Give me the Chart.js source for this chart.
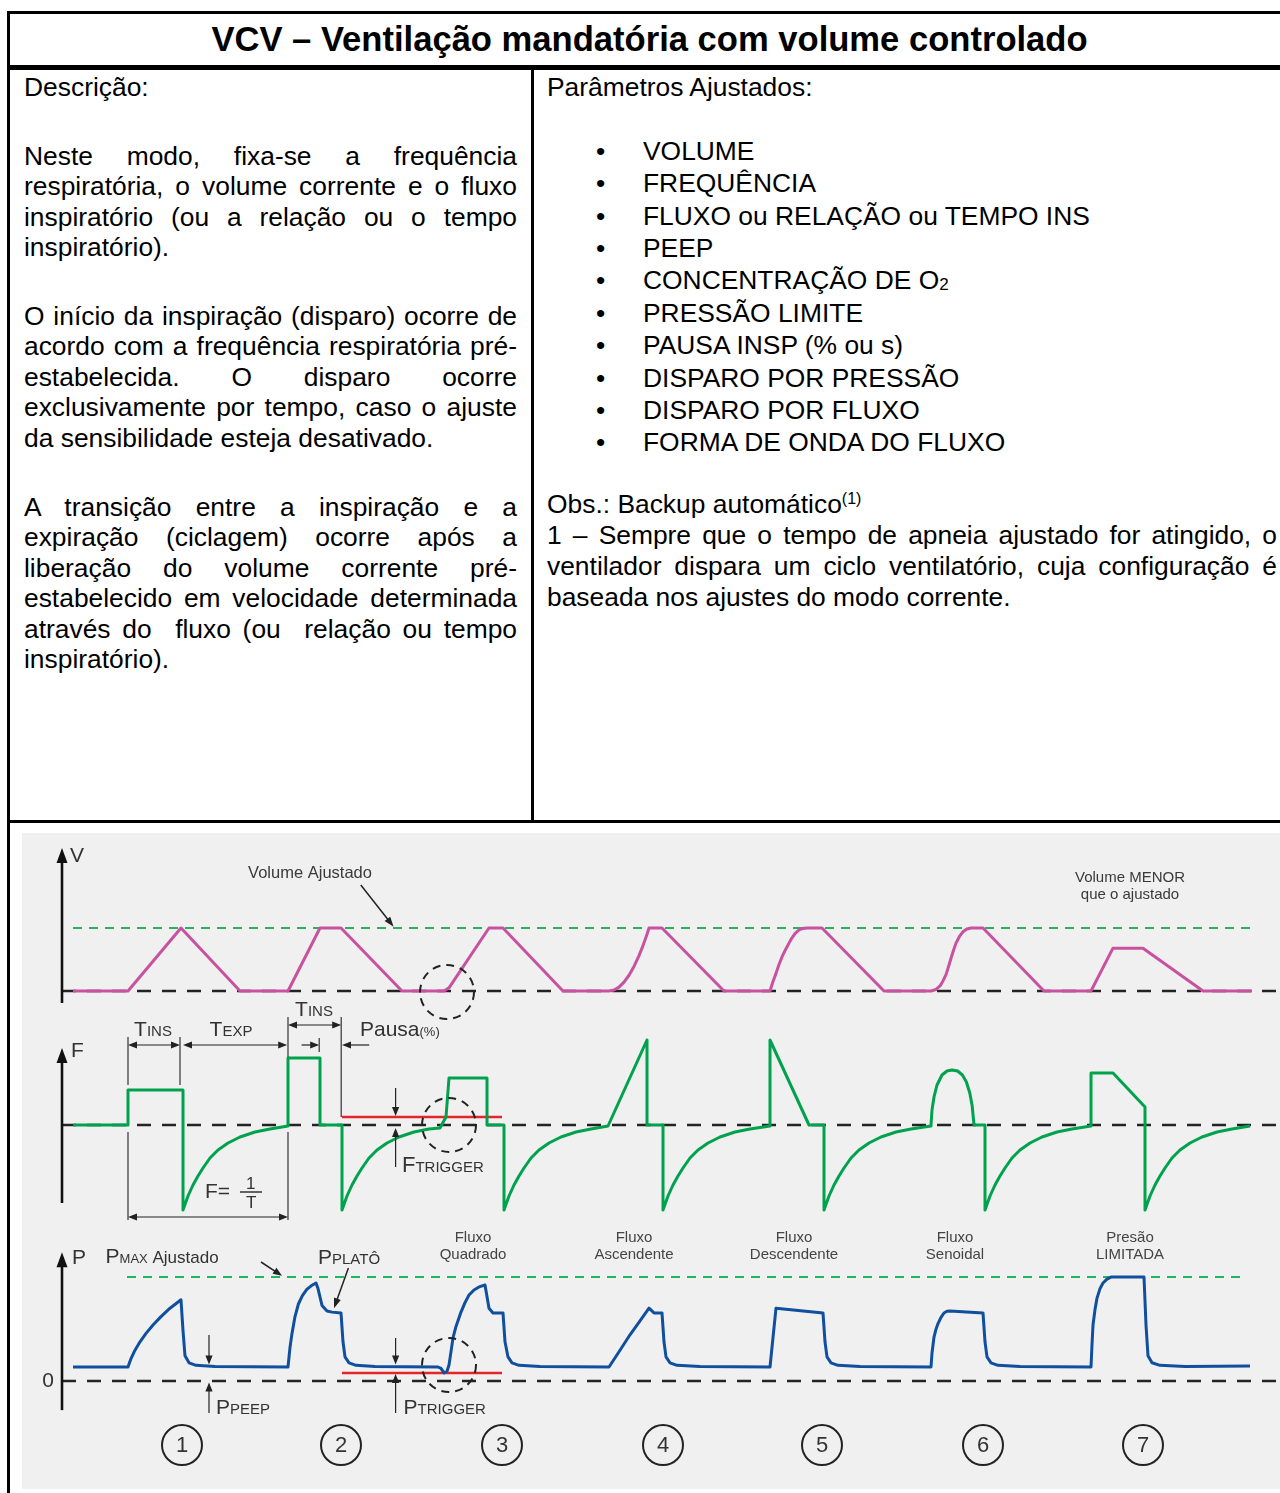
<!DOCTYPE html>
<html lang="pt">
<head>
<meta charset="utf-8">
<script src="https://cdn.jsdelivr.net/npm/chart.js@4.4.1/dist/chart.umd.min.js"></script>
<style>
html,body{margin:0;padding:0;background:#fff;width:1280px;height:1493px;overflow:hidden;}
body{position:relative;font-family:"Liberation Sans",Arial,sans-serif;color:#000;}
.bl{position:absolute;background:#000;}
.title{position:absolute;left:10px;width:1279px;top:13px;height:53px;display:flex;align-items:center;justify-content:center;font-weight:bold;font-size:34.6px;white-space:nowrap;}
.t{position:absolute;font-size:26.4px;line-height:30.5px;white-space:nowrap;}
.p{position:absolute;font-size:26.4px;line-height:30.5px;}
.p div{text-align:justify;text-align-last:justify;}
.p div.last{text-align:left;text-align-last:left;}
.ul{position:absolute;left:547px;top:134.8px;font-size:26.4px;line-height:32.4px;white-space:nowrap;}
.ul div{position:relative;padding-left:96px;height:32.4px;}
.ul div span.b{position:absolute;left:49px;}
.sub2{font-size:17px;line-height:0;position:relative;top:1px;}
sup{font-size:16px;vertical-align:9px;line-height:0;}
#panel{position:absolute;left:22px;top:833px;width:1258px;height:656px;background:#eff0ef;}
#panel canvas{position:absolute;left:0;top:0;}
</style>
</head>
<body>
<!-- table frame -->
<div class="bl" style="left:7px;top:11px;width:3px;height:1482px"></div>
<div class="bl" style="left:7px;top:11px;width:1290px;height:3px"></div>
<div class="bl" style="left:7px;top:65px;width:1290px;height:5px"></div>
<div class="bl" style="left:531px;top:70px;width:3px;height:750px"></div>
<div class="bl" style="left:7px;top:820px;width:1290px;height:3px"></div>

<div class="title">VCV – Ventilação mandatória com volume controlado</div>

<div class="t" style="left:24px;top:72px">Descrição:</div>
<div class="p" style="left:24px;top:140.75px;width:493px">
  <div>Neste modo, fixa-se a frequência</div>
  <div>respiratória, o volume corrente e o fluxo</div>
  <div>inspiratório (ou a relação ou o tempo</div>
  <div class="last">inspiratório).</div>
</div>
<div class="p" style="left:24px;top:300.75px;width:493px">
  <div>O início da inspiração (disparo) ocorre de</div>
  <div>acordo com a frequência respiratória pré-</div>
  <div>estabelecida. O disparo ocorre</div>
  <div>exclusivamente por tempo, caso o ajuste</div>
  <div class="last">da sensibilidade esteja desativado.</div>
</div>
<div class="p" style="left:24px;top:491.75px;width:493px">
  <div>A transição entre a inspiração e a</div>
  <div>expiração (ciclagem) ocorre após a</div>
  <div>liberação do volume corrente pré-</div>
  <div>estabelecido em velocidade determinada</div>
  <div>através do&nbsp; fluxo (ou&nbsp; relação ou tempo</div>
  <div class="last">inspiratório).</div>
</div>

<div class="t" style="left:547px;top:72px">Parâmetros Ajustados:</div>
<div class="ul">
  <div><span class="b">•</span>VOLUME</div>
  <div><span class="b">•</span>FREQUÊNCIA</div>
  <div><span class="b">•</span>FLUXO ou RELAÇÃO ou TEMPO INS</div>
  <div><span class="b">•</span>PEEP</div>
  <div><span class="b">•</span>CONCENTRAÇÃO DE O<span class="sub2">2</span></div>
  <div><span class="b">•</span>PRESSÃO LIMITE</div>
  <div><span class="b">•</span>PAUSA INSP (% ou s)</div>
  <div><span class="b">•</span>DISPARO POR PRESSÃO</div>
  <div><span class="b">•</span>DISPARO POR FLUXO</div>
  <div><span class="b">•</span>FORMA DE ONDA DO FLUXO</div>
</div>
<div class="p" style="left:547px;top:488.5px;width:730px;line-height:31px">
  <div class="last">Obs.: Backup automático<sup>(1)</sup></div>
  <div>1 – Sempre que o tempo de apneia ajustado for atingido, o</div>
  <div>ventilador dispara um ciclo ventilatório, cuja configuração é</div>
  <div class="last">baseada nos ajustes do modo corrente.</div>
</div>

<div id="panel"><canvas id="c" width="1258" height="656"></canvas></div>

<script>
// ---------------- DATA (time in s, volume in mL, flow in L/min, pressure in cmH2O) ----------------
const volume = [[-1.375,0],[0,0],[1.325,500],[2.8,0],[4.0,0],[4.8,500],[5.325,500],[6.85,0],[7.9,0],[8.025,25],[9.025,500],[9.375,500],[10.875,0],[12.025,0],[12.15,8],[12.275,31],[12.4,70],[12.525,125],[12.65,195],[12.775,281],[12.85,340],[12.925,405],[12.975,450],[13.025,500],[13.35,500],[14.9,0],[16.05,0],[16.125,75],[16.2,140],[16.275,210],[16.35,270],[16.44,330],[16.525,380],[16.6,422],[16.675,455],[16.75,478],[16.825,492],[16.9,498],[17.0,500],[17.35,500],[18.9,0],[20.075,0],[20.2,12],[20.3,40],[20.375,80],[20.45,130],[20.51,190],[20.575,260],[20.64,325],[20.7,380],[20.79,435],[20.875,470],[20.97,492],[21.075,500],[21.375,500],[22.9,0],[24.075,0],[24.625,340],[25.375,340],[26.875,0],[28.1,0]];

const flow = [[-1.375,0],[0,0],[0,35],[1.375,35],[1.375,-85],[1.5,-71],[1.625,-60],[1.75,-51],[1.875,-43],[2.05,-33],[2.25,-25],[2.5,-18],[2.8,-12],[3.175,-7],[3.55,-4],[4.0,-1],
[4.0,67],[4.8,67],[4.8,0],[5.35,0],[5.35,-85],[5.475,-71],[5.6,-60],[5.725,-51],[5.85,-43],[6.025,-33],[6.225,-25],[6.475,-18],[6.775,-12],[7.15,-7],[7.525,-4],[7.8,-3],[7.95,8],[8.025,47],[8.975,47],[8.975,0],[9.4,0],[9.4,-85],[9.525,-71],[9.65,-60],[9.775,-51],[9.9,-43],[10.075,-33],[10.275,-25],[10.525,-18],[10.825,-12],[11.2,-7],[11.575,-4],[12.0,-1],
[12.975,85],[12.975,0],[13.375,0],[13.375,-85],[13.5,-71],[13.625,-60],[13.75,-51],[13.875,-43],[14.05,-33],[14.25,-25],[14.5,-18],[14.8,-12],[15.175,-7],[15.55,-4],[16.05,-1],
[16.05,85],[17.025,0],[17.4,0],[17.4,-85],[17.525,-71],[17.65,-60],[17.775,-51],[17.9,-43],[18.075,-33],[18.275,-25],[18.525,-18],[18.825,-12],[19.2,-7],[19.575,-4],[20.075,-1],
[20.075,0],[20.1,15],[20.15,28],[20.225,40],[20.35,50],[20.475,54],[20.6,55],[20.74,54],[20.86,50],[20.96,43],[21.045,32],[21.105,19],[21.15,0],[21.425,0],[21.425,-85],[21.55,-71],[21.675,-60],[21.8,-51],[21.925,-43],[22.1,-33],[22.3,-25],[22.55,-18],[22.85,-12],[23.225,-7],[23.6,-4],[24.075,-1],
[24.075,52],[24.625,52],[25.425,18],[25.425,-85],[25.55,-71],[25.675,-60],[25.8,-51],[25.925,-43],[26.1,-33],[26.3,-25],[26.55,-18],[26.85,-12],[27.225,-7],[27.6,-4],[28.05,-1]];

const pressure = [[-1.375,5],[0,5],[0.075,8],[0.175,11],[0.3,14],[0.45,17],[0.625,20],[0.825,23],[1.05,26],[1.325,29],[1.375,18],[1.425,9],[1.525,6.5],[1.7,5.6],[2.175,5.2],[4.0,5],
[4.05,12],[4.1,17],[4.175,23],[4.26,27.5],[4.36,30.5],[4.47,32.7],[4.58,34],[4.7,35],[4.75,33],[4.85,27],[4.975,25],[5.1,24.6],[5.325,24.3],[5.375,14],[5.425,8.6],[5.525,6.5],[5.7,5.6],[6.175,5.2],[7.75,5],[7.825,4.5],[7.9,2.9],[7.975,3.5],[8.025,5.7],[8.075,10.5],[8.125,15.4],[8.2,19.5],[8.325,24.6],[8.425,28],[8.525,30.7],[8.65,32.5],[8.775,33.6],[8.925,34.3],[9.025,26],[9.125,24.3],[9.375,24.3],[9.425,14],[9.5,8.6],[9.6,6.5],[9.775,5.6],[10.3,5.2],[12.025,5],
[12.3,11],[12.55,16.5],[12.8,21.5],[13.025,26],[13.15,24.3],[13.35,24.3],[13.4,14],[13.45,8.6],[13.55,6.5],[13.725,5.6],[14.3,5.2],[16.05,5],
[16.2,26],[17.375,24.3],[17.425,14],[17.475,8.6],[17.575,6.5],[17.75,5.6],[18.3,5.2],[20.075,5],
[20.1,10],[20.15,15.7],[20.2,18.5],[20.25,20.5],[20.325,22.7],[20.4,24.3],[20.475,24.9],[20.55,25],[21.375,24.3],[21.425,14],[21.475,8.6],[21.575,6.5],[21.75,5.6],[22.3,5.2],[24.075,5],
[24.1,13],[24.125,20],[24.175,25.5],[24.225,29.6],[24.3,33],[24.375,35],[24.475,36.4],[24.575,37.1],[25.4,37.1],[25.45,20],[25.5,9],[25.6,6.5],[25.8,5.6],[26.425,5.2],[28.05,5.4]];

const volumeSet = 500;          // mL  (Volume Ajustado)
const pMaxSet = 37.1;           // cmH2O (PMAX Ajustado)
const flowTrigger = 8;          // L/min
const pressTrigger = 2.86;      // cmH2O
const baseSpan = [-1.65, 28.8];
const volSetSpan = [-1.375, 28.05];
const pMaxSpan = [-0.025, 27.85];
const trigSpan = [5.35, 9.35];
const cycleNumbers = ['1','2','3','4','5','6','7'];
const cycleMarks = [1.35, 5.325, 9.35, 13.375, 17.35, 21.375, 25.375];
const waveLabels = [['Fluxo','Quadrado'],['Fluxo','Ascendente'],['Fluxo','Descendente'],['Fluxo','Senoidal'],['Presão','LIMITADA']];
const waveLabelT = [8.625, 12.65, 16.65, 20.675, 25.05];

// ---------------- layout (pixels) ----------------
const W = 1258, H = 656;
const X0 = 106, XPX = 40;            // canvas x of t=0, px per second
function band(zeroPx, pxPerUnit){ return {min: -(H - zeroPx)/pxPerUnit, max: zeroPx/pxPerUnit}; }

const pts = a => a.map(p => ({x:p[0], y:p[1]}));
const hl = (span, v) => [{x:span[0], y:v},{x:span[1], y:v}];

const PINK = '#c8529f', GREEN = '#00a24e', BLUE = '#0f4f9e', GDASH = '#25b45c', RED = '#e4262b', BLK = '#232323';
const FONT = '"Liberation Sans", Arial, sans-serif';

function head(ctx,x,y,ang,len,hw){ctx.save();ctx.translate(x,y);ctx.rotate(ang);ctx.beginPath();ctx.moveTo(0,0);ctx.lineTo(-len,-hw);ctx.lineTo(-len,hw);ctx.closePath();ctx.fill();ctx.restore();}
function arrow(ctx,x1,y1,x2,y2,o={}){
  const w=o.w||1.2, len=o.len||9, hw=o.hw||3.6, col=o.color||'#222', s=!!o.start, e=(o.end!==false);
  const a=Math.atan2(y2-y1,x2-x1), c=Math.cos(a), sn=Math.sin(a);
  ctx.save();ctx.strokeStyle=col;ctx.fillStyle=col;ctx.lineWidth=w;ctx.setLineDash([]);
  ctx.beginPath();
  ctx.moveTo(s? x1+c*len*0.6 : x1, s? y1+sn*len*0.6 : y1);
  ctx.lineTo(e? x2-c*len*0.6 : x2, e? y2-sn*len*0.6 : y2);
  ctx.stroke();
  if(e) head(ctx,x2,y2,a,len,hw);
  if(s) head(ctx,x1,y1,a+Math.PI,len,hw);
  ctx.restore();
}
function line(ctx,x1,y1,x2,y2,w,col){ctx.save();ctx.strokeStyle=col||'#222';ctx.lineWidth=w||1;ctx.beginPath();ctx.moveTo(x1,y1);ctx.lineTo(x2,y2);ctx.stroke();ctx.restore();}
function txt(ctx,s,x,y,size,align,base,col){ctx.font=size+'px '+FONT;ctx.fillStyle=col||'#333';ctx.textAlign=align||'left';ctx.textBaseline=base||'alphabetic';ctx.fillText(s,x,y);}
function subTxt(ctx,big,small,x,y,bs,ss,align,col){
  ctx.font=bs+'px '+FONT; const wb=ctx.measureText(big).width;
  ctx.font=ss+'px '+FONT; const ws=ctx.measureText(small).width;
  const x0 = align==='center' ? x-(wb+ws)/2 : x;
  txt(ctx,big,x0,y,bs,'left','alphabetic',col); txt(ctx,small,x0+wb,y,ss,'left','alphabetic',col);
}
function dashCircle(ctx,x,y,r){ctx.save();ctx.strokeStyle='#222';ctx.lineWidth=2;ctx.setLineDash([8,6]);ctx.beginPath();ctx.arc(x,y,r,0,Math.PI*2);ctx.stroke();ctx.restore();}

const annotations = {
  id:'annotations',
  afterDatasetsDraw(chart){
    const ctx=chart.ctx, sc=chart.scales;
    const X=t=>sc.x.getPixelForValue(t);
    const V=v=>sc.yV.getPixelForValue(v), F=v=>sc.yF.getPixelForValue(v), P=v=>sc.yP.getPixelForValue(v);
    ctx.save();
    const ax = X(-1.65), AXO={w:2.6,len:15,hw:5.5,color:'#111'};
    // axes
    arrow(ctx,ax,V(-95),ax,V(1135),AXO);
    arrow(ctx,ax,F(-78),ax,F(77),AXO);
    arrow(ctx,ax,P(-10.4),ax,P(46),AXO);
    txt(ctx,'V',X(-1.45),V(1024),21,'left','alphabetic','#333');
    txt(ctx,'F',X(-1.425),F(68),21,'left','alphabetic','#333');
    txt(ctx,'P',X(-1.4),P(41.8),21,'left','alphabetic','#333');
    txt(ctx,'0',X(-1.85),P(0),21,'right','middle','#333');

    // volume row labels
    txt(ctx,'Volume Ajustado',X(4.55),V(936),16.5,'center','middle','#3a3a3a');
    arrow(ctx,X(5.82),V(841),X(6.64),V(510),{w:1.5,len:10,hw:3.6});
    txt(ctx,'Volume MENOR',X(25.05),V(897),15,'center','middle','#3a3a3a');
    txt(ctx,'que o ajustado',X(25.05),V(762),15,'center','middle','#3a3a3a');
    dashCircle(ctx,X(7.975),V(-8),27);

    // flow row: timing guides
    const g='#333';
    line(ctx,X(0),F(88),X(0),F(40),1.2,g);
    line(ctx,X(0),F(-7),X(0),F(-95),1.2,g);
    line(ctx,X(1.3),F(88),X(1.3),F(40),1.2,g);
    line(ctx,X(4.0),F(108),X(4.0),F(68),1.2,g);
    line(ctx,X(4.0),F(-7),X(4.0),F(-95),1.2,g);
    line(ctx,X(4.78),F(87),X(4.78),F(73),1.2,g);
    line(ctx,X(5.33),F(108),X(5.33),F(flowTrigger),1.2,g);
    arrow(ctx,X(0),F(80),X(1.3),F(80),{start:true});
    arrow(ctx,X(1.375),F(80),X(3.98),F(80),{start:true});
    arrow(ctx,X(4.0),F(100),X(5.33),F(100),{start:true});
    arrow(ctx,X(4.34),F(80),X(4.78),F(80),{});
    arrow(ctx,X(6.03),F(80),X(5.35),F(80),{});
    arrow(ctx,X(0),F(-92),X(4.0),F(-92),{start:true});
    subTxt(ctx,'T','INS',X(0.625),F(89),21,15,'center','#333');
    subTxt(ctx,'T','EXP',X(2.575),F(89),21,15,'center','#333');
    subTxt(ctx,'T','INS',X(4.65),F(109),21,15,'center','#333');
    subTxt(ctx,'Pausa','(%)',X(5.8),F(89),21,13,'left','#333');
    // F = 1/T
    txt(ctx,'F=',X(1.925),F(-73),21,'left','alphabetic','#333');
    txt(ctx,'1',X(3.07),F(-64),17,'center','alphabetic','#333');
    line(ctx,X(2.8),F(-67),X(3.35),F(-67),1.5,'#333');
    txt(ctx,'T',X(3.08),F(-83),17,'center','alphabetic','#333');
    // F trigger
    arrow(ctx,X(6.69),F(37),X(6.69),F(flowTrigger+1),{});
    arrow(ctx,X(6.69),F(-42),X(6.69),F(-3),{});
    subTxt(ctx,'F','TRIGGER',X(6.85),F(-47),22,15,'left','#333');
    dashCircle(ctx,X(8.025),F(0),27);

    // pressure row
    subTxt(ctx,'P','MAX',X(-0.56),P(42.1),21,13,'left','#333');
    ctx.font='21px '+FONT; let wP=ctx.measureText('P').width; ctx.font='13px '+FONT; wP+=ctx.measureText('MAX').width;
    txt(ctx,' Ajustado',X(-0.56)+wP,P(42.1),17,'left','alphabetic','#333');
    arrow(ctx,X(3.325),P(42.5),X(3.85),P(37.6),{w:1.5,len:9,hw:3.6});
    subTxt(ctx,'P','PLATÔ',X(4.75),P(41.8),21,15,'left','#333');
    arrow(ctx,X(5.51),P(40.4),X(5.15),P(26),{w:1.5,len:10,hw:3.6});
    arrow(ctx,X(2.025),P(16.4),X(2.025),P(5.9),{});
    arrow(ctx,X(2.025),P(-11.4),X(2.025),P(-0.5),{});
    subTxt(ctx,'P','PEEP',X(2.2),P(-11.8),21,15,'left','#333');
    arrow(ctx,X(6.69),P(15.4),X(6.69),P(5.9),{});
    arrow(ctx,X(6.69),P(-11.4),X(6.69),P(pressTrigger-0.4),{});
    subTxt(ctx,'P','TRIGGER',X(6.89),P(-11.8),21,15,'left','#333');
    dashCircle(ctx,X(8.025),P(5.7),27);
    waveLabels.forEach((l,i)=>{
      txt(ctx,l[0],X(waveLabelT[i]),P(51.1),15,'center','middle','#444');
      txt(ctx,l[1],X(waveLabelT[i]),P(45),15,'center','middle','#444');
    });
    cycleNumbers.forEach((n,i)=>{
      const cx=X(cycleMarks[i]), cy=P(-22.9);
      ctx.save();ctx.strokeStyle='#222';ctx.lineWidth=2;ctx.setLineDash([]);ctx.beginPath();ctx.arc(cx,cy,20,0,Math.PI*2);ctx.stroke();ctx.restore();
      txt(ctx,n,cx,cy+1,22,'center','middle','#333');
    });
    ctx.restore();
  }
};

const dashBase = {borderColor:BLK,borderWidth:2.6,borderDash:[14,11],order:3,clip:false};
new Chart(document.getElementById('c'),{
  type:'line',
  data:{datasets:[
    Object.assign({label:'V0',data:hl(baseSpan,0),yAxisID:'yV'},dashBase),
    Object.assign({label:'F0',data:hl(baseSpan,0),yAxisID:'yF'},dashBase),
    Object.assign({label:'P0',data:hl(baseSpan,0),yAxisID:'yP'},dashBase),
    {label:'Volume Ajustado',data:hl(volSetSpan,volumeSet),yAxisID:'yV',borderColor:GDASH,borderWidth:2,borderDash:[9,7],order:2,clip:false},
    {label:'PMAX Ajustado',data:hl(pMaxSpan,pMaxSet),yAxisID:'yP',borderColor:GDASH,borderWidth:2,borderDash:[9,7],order:2,clip:false},
    {label:'Ftrigger',data:hl(trigSpan,flowTrigger),yAxisID:'yF',borderColor:RED,borderWidth:2.4,order:2,clip:false},
    {label:'Ptrigger',data:hl(trigSpan,pressTrigger),yAxisID:'yP',borderColor:RED,borderWidth:2.4,order:2,clip:false},
    {label:'Volume',data:pts(volume),yAxisID:'yV',borderColor:PINK,borderWidth:3,order:0,clip:false},
    {label:'Fluxo',data:pts(flow),yAxisID:'yF',borderColor:GREEN,borderWidth:3,order:0,clip:false},
    {label:'Pressão',data:pts(pressure),yAxisID:'yP',borderColor:BLUE,borderWidth:3,order:0,clip:false}
  ]},
  options:{
    responsive:false, animation:false, devicePixelRatio:1, events:[],
    layout:{padding:0},
    elements:{point:{radius:0,hoverRadius:0},line:{tension:0,borderJoinStyle:'round',borderCapStyle:'butt',fill:false}},
    plugins:{legend:{display:false},tooltip:{enabled:false}},
    scales:{
      x:{type:'linear',display:false,min:-X0/XPX,max:(W-X0)/XPX},
      yV:{type:'linear',display:false,...band(158,0.126)},
      yF:{type:'linear',display:false,...band(292,1)},
      yP:{type:'linear',display:false,...band(548,2.8)}
    }
  },
  plugins:[annotations]
});
</script>
</body>
</html>
